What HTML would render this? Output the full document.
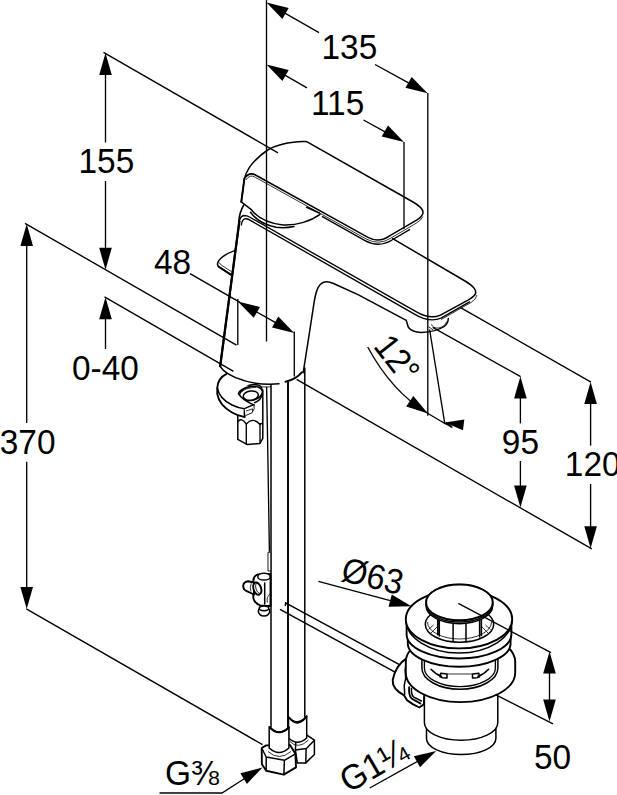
<!DOCTYPE html>
<html><head><meta charset="utf-8"><title>Faucet dimensions</title>
<style>
html,body{margin:0;padding:0;background:#fff;}
body{width:617px;height:795px;overflow:hidden;font-family:"Liberation Sans",sans-serif;}
svg{display:block;}
.t{stroke:#000;stroke-width:1.35;fill:none;stroke-linecap:butt;}
.h{stroke:#000;stroke-width:0.8;fill:none;}
.b{stroke:#000;stroke-width:1.9;fill:none;stroke-linecap:round;stroke-linejoin:round;}
.m{stroke:#000;stroke-width:1.5;fill:none;stroke-linecap:round;stroke-linejoin:round;}
.bw{stroke:#000;stroke-width:1.9;fill:#fff;stroke-linecap:round;stroke-linejoin:round;}
.mw{stroke:#000;stroke-width:1.5;fill:#fff;stroke-linecap:round;stroke-linejoin:round;}
.hw{stroke:#000;stroke-width:0.9;fill:#fff;}
.a{fill:#000;stroke:none;}
text{font-family:"Liberation Sans",sans-serif;font-size:35px;fill:#000;}
</style></head><body>
<svg width="617" height="795" viewBox="0 0 617 795">
<rect width="617" height="795" fill="#fff"/>
<g id="faucet">
<line class="m" x1="271.0" y1="385.0" x2="271.0" y2="727.0"/>
<line class="b" x1="288.0" y1="382.5" x2="288.0" y2="727.0"/>
<line class="m" x1="304.8" y1="368.0" x2="304.8" y2="717.0"/>
<path class="t" d="M266.6,387 L267.6,440 L269.4,551.7" />
<path class="h" d="M257.3,386.9 L270.9,386.9" />
<path class="b" d="M239.3,221.7 L220.2,366.2" />
<path class="b" style="stroke-width:2.3" d="M239.3,221.7 L220.2,366.2"/>
<path class="m" d="M220.2,366.2 C223,371.5 232,377.5 244,380.6 C252,383 264,385 279,383.8" />
<path class="b" d="M285.5,381.8 Q296,379.5 302,372.2" />
<path class="t" d="M239.3,221.7 Q240.3,215.6 244.3,215.5 Q247,215.5 249.5,217 L416,311.6 Q429.5,319.5 440,315.3" />
<path class="t" d="M241.3,225.5 Q242,218.9 245.6,218.7 Q247.5,218.7 249.5,219.9 L414,313.9 Q429,323 441,318.2 L470,301.6" />
<path class="m" d="M392.7,238.6 L465,281 Q478.5,289 475,294.5 Q473.5,297 468,300.2 L440,315.3" />
<path class="h" d="M441,319.6 L471,302.5 Q476,299.5 477,295" />
<path class="m" d="M303.2,372.7 L309.3,333.7 L314.1,302.4 Q316,291 318.2,287.5 Q321.2,282 326,281.8 Q329.5,281.7 333.5,283.5 L358,294.6 L406.3,320.4" />
<path class="m" d="M406.3,320.4 L408.3,327.3 Q412,332.3 421,332.4 Q436,332 444.2,326.5 Q448.2,323.5 448.3,318.5" />
<path class="h" d="M431.5,324.3 Q433,328.5 438.5,328 Q445.5,326.5 446.5,321.5" />
<path class="h" d="M428.5,326.8 L433.5,330.2" />
<path class="m" d="M234.6,250.6 Q222.5,255 218.8,260.7 Q216.3,264.3 218.7,266.7 L230.8,274.6" />
<path class="h" d="M219.3,262.6 Q219.8,264 221.5,265.2 L231.4,271.6" />
<path class="b" d="M218.7,266.7 L230.8,274.6" />
<path class="m" d="M241.3,201.8 L244.4,178.6 C246.5,170 254,159 268.5,149.5 C280,143.3 296,141.2 305,141.6 Q307,141.7 308.5,142.6 L413,202 Q423.5,208 423,212.8 Q422.5,217 414,221.6 L390,235.6 Q379,243.5 367.5,237.2 L255.5,175 Q249,171.5 244.2,178.8" />
<path class="h" d="M245.8,180 Q250,173.8 255.3,177.3 L366,238.9 Q379,246 391,238 L416,223.3 Q421.5,220 423,216.5" />
<path class="t" d="M322,216.3 L365,240.6 Q379,248.2 392,240 L410,229.3" />
<path class="m" d="M241.3,201.8 L251,209.3 C256,216 266,223.2 283,224.9 C297,225.6 311,221 320,214.4" />
<path class="m" d="M238.7,222 Q239.3,212.5 243.8,205" />
<path class="m" d="M250.5,212.3 C255,218.5 263,224.7 276,227.2 Q285,228.4 294,226.5" />
<path class="m" d="M306.6,207.3 L319.3,213" />
<path class="b" d="M241.3,201.8 L244.4,178.6" id="handle-left"/>
</g>
<g id="lower">
<path class="mw" d="M262.8,390 L262.8,438.3 L259.9,443.4 L247.4,444.6 L237.8,439.4 L237.8,400 Z" />
<path class="t" d="M246.3,424 L246.3,444.5 M260,424.5 L260,443.4" />
<path class="t" d="M237.8,421.5 Q241.5,417 246.3,424 Q253,416.5 260,424.5 Q261.5,422.5 262.8,424.5" />
<ellipse class="mw" cx="251.5" cy="390.5" rx="10.5" ry="5.6" transform="rotate(-12 251.5 390.5)"/>
<ellipse class="mw" cx="251.0" cy="393.5" rx="11.6" ry="7.0" transform="rotate(-12 251.0 393.5)"/>
<ellipse class="mw" cx="250.8" cy="395.6" rx="7.6" ry="4.6" transform="rotate(-8 250.8 395.6)"/>
<path class="m" d="M261.7,394 Q262,399.5 254.5,402.7" />
<path fill="#fff" stroke="none" d="M226.6,373.8 C221,376.5 217.5,382 217.3,388 L217.3,394.2 C218.5,401 224,408 232,412.5 C236,414.8 240.5,416.3 244.6,417.1 L244.6,408.8 L253.8,404.9 C247,402 241,398 238.4,393.6 C239,390.5 244,388 250.9,386.3 C243,385.5 233,379 226.6,373.8 Z"/>
<path class="b" d="M226.6,373.8 C221,376.5 217.5,382 217.3,388 L217.3,394.2 C218.5,401 224,408 232,412.5 C236,414.8 240.5,416.3 244.6,417.1 L244.6,408.8 L253.8,404.9" />
<path class="m" d="M253.8,404.9 C247,402 241,398 238.4,393.6 C239,390.5 244,388 250.9,386.3" />
<path class="h" d="M241.5,392.5 C243,389.5 248,388 256,387.3" />
<path class="m" d="M217.3,388 C218.5,394.5 224,401 232,405 C236,407 240.5,408.3 244.6,408.8" />
<path class="hw" d="M244.6,408.8 L253.8,404.9 L254.3,408.5 L252,412.8 L245.5,415.6" />
<path class="h" d="M246,411 L252.5,408.8 L252.5,411.8" />
<path class="hw" d="M268,552.3 L268,571 L270.8,571 L270.8,552.3 Z" />
<path class="bw" d="M257.5,574.5 Q253.3,576.5 253.3,581 L253.3,598 Q254.5,603.5 261,605.8 L270.5,606 L270.5,574 Z" />
<ellipse class="mw" cx="264.0" cy="576.7" rx="6.2" ry="3.4"/>
<path class="bw" d="M254,582.5 L248,581.2 Q243.2,582 243.2,586 Q243.4,589.8 246.2,590.8 L254,594.5 Z" />
<path class="h" d="M251.3,583.3 Q249.3,587 251,591.5" />
<path class="m" d="M264.7,583 L264.7,604" />
<ellipse class="bw" cx="257.3" cy="588.6" rx="3.8" ry="6.4" transform="rotate(-18 257.3 588.6)"/>
<ellipse class="h" cx="258.6" cy="588.3" rx="2.6" ry="5.4" transform="rotate(-18 258.6 588.3)"/>
<path class="h" d="M270,593.8 Q266.3,597 267.3,602.5" />
<ellipse class="mw" cx="264.0" cy="611.3" rx="5.7" ry="4.6"/>
<ellipse class="mw" cx="264.0" cy="608.3" rx="4.8" ry="2.4"/>
<path class="m" d="M285.6,602.8 L399,664.3 M280.5,609.6 L395.5,672.4 M285.6,602.8 L285.4,605.5" />
<path class="mw" d="M295.4,750 L297.3,762.9 L305.8,762.9 L314.4,754.5 L314.4,740.2 L305.8,734.4 L296,738 Z" />
<path class="m" d="M314.4,740.2 L306.4,748.6 L295.4,750 M306.1,748.6 L305.8,762.9" />
<path class="mw" d="M288.5,717 L288.5,738 Q297.5,746.5 306.7,738 L306.7,716 Q297.5,727 288.5,717 Z" />
<path class="b" d="M289,717.5 Q297.5,728.5 306.7,716.5" />
<path class="h" d="M290,741.5 Q298,750 308.5,740" />
<path class="bw" d="M261.7,748 L266.2,745.4 L290,745 L295.4,753.8 L296,767.4 L283.7,774.6 L266.2,770.7 L261.9,764.2 Z" />
<path class="m" d="M261.7,748 L266.2,757 L284.4,760.3 L295.4,753.8 M266.2,757 L266.2,770.7 M284.4,760.3 L283.9,774.6" />
<path class="mw" d="M269.2,727 L269.2,748 Q279,757 288.9,748 L288.9,727 Q279,737 269.2,727 Z" />
<path class="b" d="M269.5,727 Q279,737.5 288.9,727.5" />
<path class="h" d="M268,751.5 Q279,761.5 291,751.5" />
</g>
<g id="drain">
<path class="bw" d="M406.7,658.1 C400,662.5 394.5,671 392.7,680 C392.3,685 395,690.5 404.2,695.4 L407.2,700.4 L413.2,704.4 L419.3,707.5 L423.8,704.4 L426,660 Z" />
<path class="m" d="M406.5,660.1 L405.2,670.2 L405.7,678.3 L404.2,685.3 L404.7,694.4" />
<path class="b" d="M409.2,687.3 Q408.5,695 411.5,698.5 L420.3,703.4" />
<path class="m" d="M411.5,688.5 Q411,694 413.3,696.8 L421.5,701" />
<path class="mw" d="M426.5,726.0 L426.5,738.5 A34.7,16.0 0 0 0 495.9,738.5 L495.9,726.0 A34.7,16.0 0 0 0 426.5,726.0 Z" />
<path class="mw" d="M424.4,697.0 L424.4,722.7 A36.7,17.5 0 0 0 497.8,722.7 L497.8,697.0 A36.7,17.5 0 0 0 424.4,697.0 Z" />
<path class="bw" d="M405.8,662.0 L405.8,672.8 A54.7,29.3 0 0 0 515.2,672.8 L515.2,662.0 A54.7,29.3 0 0 0 405.8,662.0 Z" />
<path class="mw" d="M421.9,652 L421.9,668 A38,21.2 0 0 0 497.9,668 L497.9,652 Z" />
<path class="t" d="M424.4,652 L424.4,668 A35.5,18.6 0 0 0 495.4,668 L495.4,652" />
<path class="m" d="M431,669.2 Q436,674.5 441.5,676.3 M488.6,669.2 Q483.6,674.5 478,676.3" />
<path class="m" d="M440.7,673.2 L447,674 L447,678 Q443,678.4 440,676.8 Z M478.8,673.2 L472.5,674 L472.5,678 Q476.5,678.4 479.5,676.8 Z" />
<path class="h" d="M447,674 L472.5,674" />
<path class="bw" d="M407.8,636.0 L407.8,643.2 A51.4,23.6 0 0 0 510.6,643.2 L510.6,636.0 A51.4,23.6 0 0 0 407.8,636.0 Z" />
<path class="bw" d="M406.6,626.0 L406.6,634.2 A52.4,24.3 0 0 0 511.4,634.2 L511.4,626.0 A52.4,24.3 0 0 0 406.6,626.0 Z" />
<path class="mw" d="M405.8,619.2 A53.2,33.8 0 0 0 512.2,619.2 Z" />
<ellipse class="bw" cx="459.0" cy="619.2" rx="53.2" ry="29.2"/>
<ellipse class="mw" cx="459.5" cy="624.3" rx="34.2" ry="18.0"/>
<path class="h" d="M427.5,622.0 A32.0,17.0 0 0 0 491.5,622.0" />
<path class="m" d="M437.7,612 L437.7,634.8 M439.3,612 L439.3,636 M453.1,612 L453.1,641.5 M466,612 L466,641.5 M479.6,612 L479.6,637 M481.4,612 L481.4,635.5" />
<path class="h" d="M428.5,629.5 L433.5,625 M431,633 L437,627 M490.5,629.5 L485.5,625 M488,633 L482,627" />
<path class="mw" d="M426.1,602.4 L426.1,605.8 A33.3,17.9 0 0 0 492.7,605.8 L492.7,602.4 A33.3,17.9 0 0 0 426.1,602.4 Z" />
<path class="m" d="M426.1,604.2 A33.3,17.9 0 0 0 492.7,604.2" />
<ellipse class="bw" cx="459.4" cy="602.4" rx="33.3" ry="17.9"/>
</g>
<g id="dims">
<line class="t" x1="103.5" y1="52.3" x2="278.0" y2="152.8"/>
<line class="t" x1="25.0" y1="223.3" x2="236.5" y2="345.2"/>
<polygon class="a" points="105.5,53.0 111.8,75.0 99.2,75.0"/>
<line class="t" x1="105.5" y1="74.0" x2="105.5" y2="142.5"/>
<line class="t" x1="105.5" y1="181.0" x2="105.5" y2="249.0"/>
<polygon class="a" points="105.5,269.8 99.2,247.8 111.8,247.8"/>
<text transform="translate(78.5 173.3) scale(0.955 1)">155</text>
<polygon class="a" points="26.7,224.0 33.0,246.0 20.4,246.0"/>
<line class="t" x1="26.7" y1="245.0" x2="26.7" y2="423.0"/>
<line class="t" x1="26.7" y1="461.7" x2="26.7" y2="588.0"/>
<polygon class="a" points="26.7,609.0 20.4,587.0 33.0,587.0"/>
<line class="t" x1="26.3" y1="608.8" x2="262.5" y2="744.6"/>
<text transform="translate(-0.3 454.0) scale(0.955 1)">370</text>
<polygon class="a" points="105.5,297.2 111.8,319.2 99.2,319.2"/>
<line class="t" x1="105.5" y1="318.0" x2="105.5" y2="349.0"/>
<line class="t" x1="104.5" y1="296.8" x2="233.5" y2="371.3"/>
<text transform="translate(72.0 379.8) scale(0.955 1)">0-40</text>
<line class="t" x1="266.5" y1="0.0" x2="266.5" y2="341.5"/>
<polygon class="a" points="266.5,2.5 288.7,8.0 282.4,18.9"/>
<line class="t" x1="284.0" y1="12.6" x2="319.0" y2="32.6"/>
<line class="t" x1="375.0" y1="64.5" x2="409.0" y2="83.2"/>
<polygon class="a" points="427.6,93.3 405.4,87.8 411.7,76.9"/>
<line class="t" x1="427.8" y1="93.0" x2="427.8" y2="415.7"/>
<text transform="translate(321.5 58.7) scale(0.955 1)">135</text>
<polygon class="a" points="266.5,64.5 288.7,70.0 282.4,80.9"/>
<line class="t" x1="284.0" y1="74.6" x2="307.0" y2="87.8"/>
<line class="t" x1="363.5" y1="120.0" x2="386.0" y2="132.3"/>
<polygon class="a" points="403.9,142.0 381.7,136.5 388.0,125.6"/>
<line class="t" x1="404.0" y1="142.0" x2="404.0" y2="229.0"/>
<text transform="translate(311.0 114.7) scale(0.955 1)">115</text>
<line class="t" x1="190.0" y1="273.6" x2="240.0" y2="302.3"/>
<polygon class="a" points="237.8,301.4 260.0,306.9 253.7,317.8"/>
<polygon class="a" points="294.2,332.9 272.0,327.4 278.3,316.5"/>
<line class="t" x1="255.0" y1="311.0" x2="277.0" y2="323.4"/>
<line class="t" x1="237.8" y1="299.0" x2="237.8" y2="345.0"/>
<line class="t" x1="294.3" y1="331.5" x2="294.3" y2="376.6"/>
<text transform="translate(154.0 274.0) scale(0.955 1)">48</text>
<line class="t" x1="432.7" y1="327.3" x2="520.6" y2="376.6"/>
<line class="t" x1="461.0" y1="307.8" x2="591.0" y2="382.2"/>
<line class="t" x1="296.6" y1="379.3" x2="591.8" y2="548.9"/>
<polygon class="a" points="520.4,376.4 526.7,398.4 514.1,398.4"/>
<line class="t" x1="520.4" y1="397.0" x2="520.4" y2="423.4"/>
<line class="t" x1="520.4" y1="461.0" x2="520.4" y2="487.0"/>
<polygon class="a" points="520.4,507.4 514.1,485.4 526.7,485.4"/>
<text transform="translate(501.8 453.8) scale(0.955 1)">95</text>
<polygon class="a" points="590.6,382.0 596.9,404.0 584.3,404.0"/>
<line class="t" x1="590.6" y1="403.0" x2="590.6" y2="445.6"/>
<line class="t" x1="590.6" y1="484.0" x2="590.6" y2="527.0"/>
<polygon class="a" points="590.6,548.2 584.3,526.2 596.9,526.2"/>
<text transform="translate(564.8 476.2) scale(0.955 1)">120</text>
<line class="t" x1="429.6" y1="329.5" x2="444.8" y2="423.7"/>
<path class="t" d="M367.7,347 Q392,392 428,413.5 T 446,422.6" />
<polygon class="a" points="428.0,413.5 406.2,406.4 413.3,396.0"/>
<polygon class="a" points="444.8,422.5 464.3,419.4 463.0,430.3"/>
<text transform="translate(372.6 346.6) rotate(52) scale(0.925 1)">12&#176;</text>
<line class="t" x1="458.3" y1="603.4" x2="551.0" y2="652.6"/>
<line class="t" x1="495.5" y1="694.6" x2="553.0" y2="723.8"/>
<polygon class="a" points="549.5,651.6 555.8,673.6 543.2,673.6"/>
<polygon class="a" points="549.5,721.4 543.2,699.4 555.8,699.4"/>
<line class="t" x1="549.5" y1="672.0" x2="549.5" y2="701.0"/>
<text transform="translate(534.0 768.8) scale(0.955 1)">50</text>
<line class="t" x1="318.4" y1="581.3" x2="395.0" y2="601.9"/>
<polygon class="a" points="411.4,606.3 388.5,606.7 391.8,594.5"/>
<text transform="translate(339.8 580.6) rotate(13.5) scale(0.935 1)">&#216;63</text>
<path class="t" d="M159.5,793 L222,793 L245,778.3" />
<polygon class="a" points="262.5,767.4 246.9,784.1 240.4,773.3"/>
<text transform="translate(165.0 785.0) scale(0.955 1)">G&#8540;</text>
<line class="t" x1="369.7" y1="788.0" x2="420.0" y2="760.0"/>
<polygon class="a" points="436.2,751.0 420.0,767.2 413.9,756.2"/>
<text transform="translate(348.5 793.5) rotate(-30) scale(0.955 1)">G1&#188;</text>
</g>
</svg>
</body></html>
